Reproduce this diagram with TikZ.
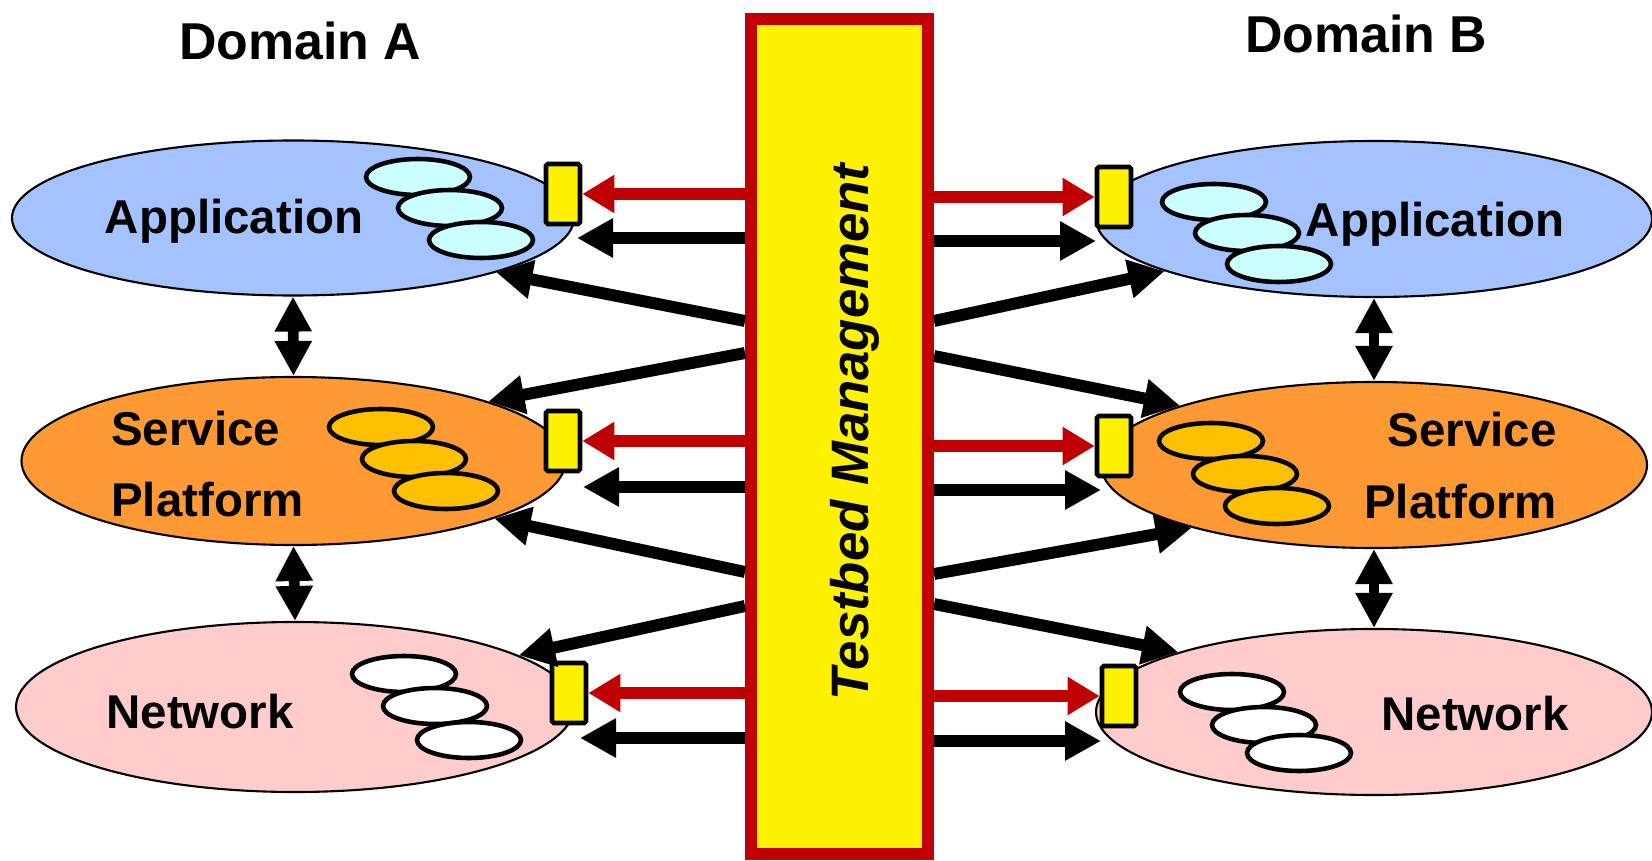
\documentclass[tikz,border=0pt]{standalone}
\usepackage{fontspec}
\setmainfont{Liberation Sans}
\usepackage{tikz}
\usetikzlibrary{shapes.geometric,arrows.meta}
\definecolor{appblue}{RGB}{164,194,255}
\definecolor{svcorange}{RGB}{255,153,51}
\definecolor{netpink}{RGB}{255,204,204}
\definecolor{appcyan}{RGB}{204,255,255}
\definecolor{svcgold}{RGB}{255,192,0}
\definecolor{tbred}{RGB}{192,0,0}
\newcommand{\pxu}{0.02cm}

\begin{document}
\begin{tikzpicture}[x=0.02cm,y=-0.02cm,
  layer/.style={ellipse,draw,line width=1.2pt,inner sep=0pt},
  blob/.style={ellipse,draw,line width=2.6pt,inner sep=0pt,minimum width=104*\pxu,minimum height=36*\pxu},
  port/.style={draw,fill=yellow,line width=2.6pt,rounded corners=1pt,inner sep=0pt,minimum width=34*\pxu,minimum height=60*\pxu},
  lbl/.style={font=\fontsize{27}{30}\selectfont\bfseries,inner sep=0pt},
  tbar/.style={draw=tbred,fill=yellow,line width=12*\pxu,inner sep=0pt,minimum width=177*\pxu,minimum height=835*\pxu},
  blkarr/.style={line width=6.8pt,-{Triangle[length=0.72cm,width=0.74cm]}},
  redarr/.style={tbred,line width=6.8pt,-{Triangle[length=0.64cm,width=0.72cm]}},
  dblarr/.style={line width=6.2pt,{Triangle[length=0.7cm,width=0.7cm]}-{Triangle[length=0.7cm,width=0.7cm]}}]
\useasboundingbox (0,0) rectangle (1652,861);

\node[layer,fill=appblue,minimum width=562*\pxu,minimum height=155*\pxu] (appA) at (293,218) {};
\node[layer,fill=svcorange,minimum width=544*\pxu,minimum height=168*\pxu] (svcA) at (293.5,461) {};
\node[layer,fill=netpink,minimum width=558*\pxu,minimum height=170*\pxu] (netA) at (295,707) {};
\node[layer,fill=appblue,minimum width=556*\pxu,minimum height=156*\pxu] (appB) at (1374,219) {};
\node[layer,fill=svcorange,minimum width=546*\pxu,minimum height=166*\pxu] (svcB) at (1374,465) {};
\node[layer,fill=netpink,minimum width=556*\pxu,minimum height=166*\pxu] (netB) at (1374,712) {};

\node[blob,fill=appcyan] (appA1) at (418,177) {};
\node[blob,fill=appcyan] (appA2) at (450,208) {};
\node[blob,fill=appcyan] (appA3) at (481,240) {};
\node[blob,fill=svcgold] (svcA1) at (381,427) {};
\node[blob,fill=svcgold] (svcA2) at (414,459) {};
\node[blob,fill=svcgold] (svcA3) at (446,491) {};
\node[blob,fill=white] (netA1) at (404,674) {};
\node[blob,fill=white] (netA2) at (435,706) {};
\node[blob,fill=white] (netA3) at (469,740) {};
\node[blob,fill=appcyan] (appB1) at (1214,202) {};
\node[blob,fill=appcyan] (appB2) at (1247,233) {};
\node[blob,fill=appcyan] (appB3) at (1279,264) {};
\node[blob,fill=svcgold] (svcB1) at (1211,441) {};
\node[blob,fill=svcgold] (svcB2) at (1245,474) {};
\node[blob,fill=svcgold] (svcB3) at (1277,506) {};
\node[blob,fill=white] (netB1) at (1232,692) {};
\node[blob,fill=white] (netB2) at (1264,725) {};
\node[blob,fill=white] (netB3) at (1299,753) {};

\node[lbl,font=\fontsize{29.5}{32}\selectfont\bfseries,anchor=base] (domA) at (300,60) {Domain A};
\node[lbl,font=\fontsize{29.5}{32}\selectfont\bfseries,anchor=base] (domB) at (1366,53) {Domain B};
\node[lbl,anchor=base] (appAl) at (234,234) {Application};
\node[lbl,anchor=base west] (svcAl) at (111,445) {Service};
\node[lbl,anchor=base west] (plfAl) at (111,516) {Platform};
\node[lbl,anchor=base] (netAl) at (200,728) {Network};
\node[lbl,anchor=base] (appBl) at (1435,237) {Application};
\node[lbl,anchor=base east] (svcBl) at (1557,446) {Service};
\node[lbl,anchor=base east] (plfBl) at (1557,518) {Platform};
\node[lbl,anchor=base] (netBl) at (1475,730) {Network};

\node[port] (rA1) at (563,194) {};
\node[port] (rA2) at (563,441) {};
\node[port] (rA3) at (569,693) {};
\node[port] (rB1) at (1114,197) {};
\node[port] (rB2) at (1114,446) {};
\node[port] (rB3) at (1119,696) {};

\node[tbar] (tb) at (839.5,436.5) {};
\node[rotate=90,inner sep=0pt,font=\fontsize{30}{32}\selectfont\bfseries\itshape] (tbl) at (855,432) {Testbed Management};

\coordinate (hA1) at (577,238);
\coordinate (hA2) at (583,487);
\coordinate (hA3) at (580,738);
\coordinate (hB1) at (1096,241);
\coordinate (hB2) at (1101,490);
\coordinate (hB3) at (1101,741);
\coordinate (dA1) at (745,321);
\coordinate (dA2) at (745,353);
\coordinate (dA3) at (745,572);
\coordinate (dA4) at (745,606);
\coordinate (dB1) at (934,321);
\coordinate (dB2) at (934,356);
\coordinate (dB3) at (934,574);
\coordinate (dB4) at (934,604);

\draw[redarr] (rA1 -| tb.west) -- (rA1.east);
\draw[redarr] (rA2 -| tb.west) -- (rA2.east);
\draw[redarr] (rA3 -| tb.west) -- (rA3.east);
\draw[redarr] (rB1 -| tb.east) -- (rB1.west);
\draw[redarr] (rB2 -| tb.east) -- (rB2.west);
\draw[redarr] (rB3 -| tb.east) -- (rB3.west);

\draw[blkarr] (hA1 -| tb.west) -- (hA1);
\draw[blkarr] (hA2 -| tb.west) -- (hA2);
\draw[blkarr] (hA3 -| tb.west) -- (hA3);
\draw[blkarr] (hB1 -| tb.east) -- (hB1);
\draw[blkarr] (hB2 -| tb.east) -- (hB2);
\draw[blkarr] (hB3 -| tb.east) -- (hB3);

\draw[blkarr] (dA1) -- (appA.-15);
\draw[blkarr] (dA2) -- (svcA.17.5);
\draw[blkarr] (dA3) -- (svcA.-16.8);
\draw[blkarr] (dA4) -- (netA.13.5);
\draw[blkarr] (dB1) -- (appB.194.7);
\draw[blkarr] (dB2) -- (svcB.163);
\draw[blkarr] (dB3) -- (svcB.199);
\draw[blkarr] (dB4) -- (netB.163.5);

\draw[dblarr] (appA.south) -- (svcA.north);
\draw[dblarr] (svcA.south) -- (netA.north);
\draw[dblarr] (appB.south) -- (svcB.north);
\draw[dblarr] (svcB.south) -- (netB.north);
\end{tikzpicture}
\end{document}
